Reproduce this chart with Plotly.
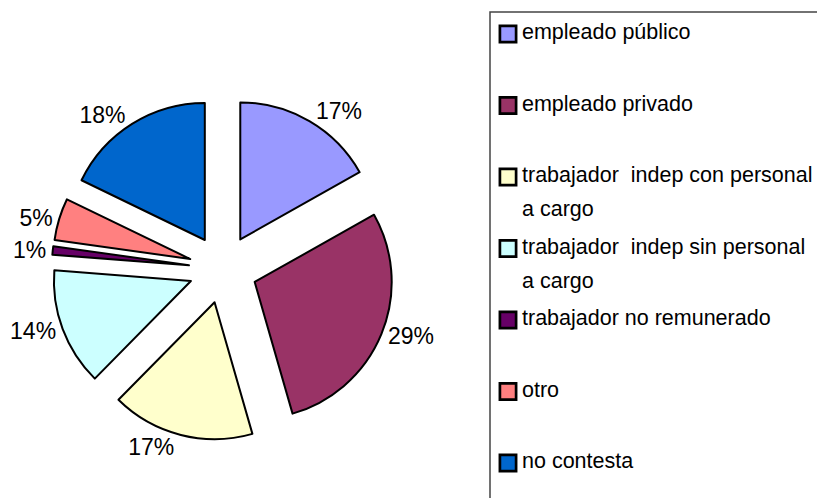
import plotly.graph_objects as go

categories = [
    ["empleado público"],
    ["empleado privado"],
    ["trabajador\u00a0 indep con personal", "a cargo"],
    ["trabajador\u00a0 indep sin personal", "a cargo"],
    ["trabajador no remunerado"],
    ["otro"],
    ["no contesta"],
]
values = [17, 29, 17, 14, 1, 5, 18]
colors = ["#9999FF", "#993366", "#FFFFCC", "#CCFFFF", "#660066", "#FF8080", "#0066CC"]

W, H = 817, 498
FONT = "Liberation Sans, Arial, sans-serif"
LEG_FS = 13.17   # base legend font -> line pitch; 4 lines per entry
TXT_FS = 21.5    # visible legend text size


def legend_label(lines, last=False):
    span = '<span style="font-size:%spx">%s</span>'
    if last:
        return span % (TXT_FS, lines[0])
    parts = [span % (TXT_FS, lines[0]), " ",
             span % (TXT_FS, lines[1]) if len(lines) > 1 else " ", " "]
    return "<br>".join(parts)


labels = [legend_label(c, i == len(categories) - 1) for i, c in enumerate(categories)]

# pie centre ~ (223, 269) px, radius ~137 px, pull 0.25
size = 342.5
cx, cy = 223, 269
dom_x = [(cx - size / 2) / W, (cx + size / 2) / W]
dom_y = [1 - (cy + size / 2) / H, 1 - (cy - size / 2) / H]

fig = go.Figure(
    go.Pie(
        labels=labels,
        values=values,
        sort=False,
        direction="clockwise",
        rotation=0,
        pull=[0.25] * len(values),
        marker=dict(colors=colors, line=dict(color="black", width=2)),
        textposition="outside",
        texttemplate="%{percent:.0%}",
        outsidetextfont=dict(size=23, color="black", family=FONT),
        hoverinfo="skip",
        domain=dict(x=dom_x, y=dom_y),
    )
)

fig.update_layout(
    width=W,
    height=H,
    margin=dict(l=0, r=0, t=0, b=0, autoexpand=False),
    paper_bgcolor="white",
    plot_bgcolor="white",
    font=dict(family=FONT, color="black"),
    showlegend=True,
    legend=dict(
        x=482 / W,
        y=1 - 19 / H,
        xanchor="left",
        yanchor="top",
        font=dict(size=LEG_FS, family=FONT, color="black"),
        valign="top",
        bgcolor="rgba(0,0,0,0)",
        borderwidth=0,
    ),
    shapes=[
        dict(
            type="rect",
            xref="paper",
            yref="paper",
            x0=490 / W,
            x1=1.01,
            y0=-0.01,
            y1=1 - 12 / H,
            line=dict(color="#444444", width=1.5),
            fillcolor="rgba(0,0,0,0)",
        )
    ],
)

post = """
document.body.style.margin = '0';
function bigSymbols() {
  document.querySelectorAll('path.legendpie').forEach(function (p) {
    p.setAttribute('transform', 'translate(26,0) scale(1.35)');
  });
}
bigSymbols();
setTimeout(bigSymbols, 50);
setTimeout(bigSymbols, 300);
"""

fig.write_html("out.html", post_script=post, config={"displayModeBar": False})
